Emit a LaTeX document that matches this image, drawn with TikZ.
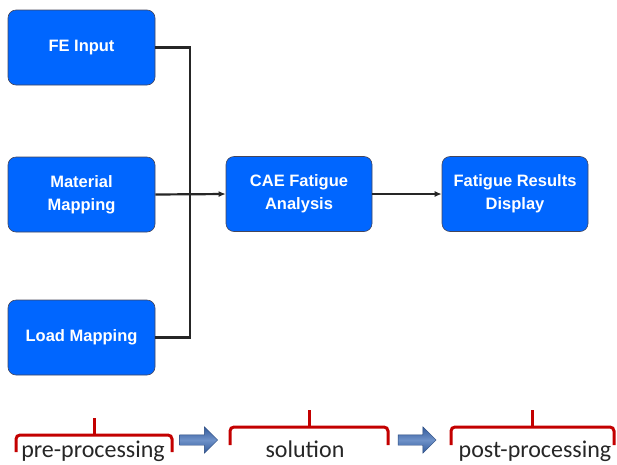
\documentclass[tikz,border=0pt]{standalone}
\usepackage{fontspec}
\newfontfamily\boxfont{Liberation Sans}
\newfontfamily\capfont{Carlito}
\usetikzlibrary{arrows.meta,shapes.arrows}
\definecolor{boxblue}{RGB}{0,102,255}
\definecolor{boxedge}{RGB}{70,70,90}
\definecolor{bracered}{RGB}{195,0,0}
\definecolor{steel}{RGB}{50,90,155}
\definecolor{steellight}{RGB}{110,145,200}
\tikzset{
  blockbox/.style={draw=boxedge, line width=0.6pt, fill=boxblue, rounded corners=8pt,
    minimum width=147pt, minimum height=75pt, text=white, align=center,
    font=\boxfont\bfseries\fontsize{16.5}{23}\selectfont},
  conn/.style={draw=black!85, line width=2.2pt},
  arr/.style={conn, -{Latex[length=7pt,width=6pt]}},
  bracepath/.style={draw=bracered, line width=3pt, rounded corners=4pt},
  phaselabel/.style={font=\capfont\fontsize{24}{29}\selectfont, text=black!85, anchor=base, inner sep=0pt},
  bluearrow/.style={single arrow, single arrow head extend=8pt, single arrow head indent=0pt,
    minimum height=38pt, inner xsep=0pt, inner ysep=5pt, draw=steel!80!black, line width=0.4pt,
    top color=steel, bottom color=steel, middle color=steellight}
}
\begin{document}
\begin{tikzpicture}[x=1pt,y=-1pt]
\useasboundingbox (0,0) rectangle (617,464);
\node[blockbox] (fe) at (81.5,47.5) {FE Input};
\node[blockbox] (mat) at (81.5,194.5) {Material\\Mapping};
\node[blockbox] (load) at (81.5,337.5) {Load Mapping};
\node[blockbox, minimum width=146pt] (cae) at (299,194) {CAE Fatigue\\Analysis};
\node[blockbox, minimum width=146pt] (res) at (515,194) {Fatigue Results\\Display};
\coordinate (j) at (190,194.5);
\draw[conn] (fe.east) -| (j) |- (load.east);
\draw[arr] (mat.east) -- (cae.west);
\draw[arr] (cae.east) -- (res.west);
% phase braces
\coordinate (b1l) at (16,452); \coordinate (b1m) at (94,435); \coordinate (b1r) at (172,452);
\coordinate (b2l) at (230,445); \coordinate (b2m) at (309,427); \coordinate (b2r) at (388,445);
\coordinate (b3l) at (451,445); \coordinate (b3m) at (532,427); \coordinate (b3r) at (614,445);
\draw[bracepath] (b1l) |- (b1m) -| (b1r);
\draw[bracepath, rounded corners=0pt] (b1m) -- ++(0,-17);
\draw[bracepath] (b2l) |- (b2m) -| (b2r);
\draw[bracepath, rounded corners=0pt] (b2m) -- ++(0,-17);
\draw[bracepath] (b3l) |- (b3m) -| (b3r);
\draw[bracepath, rounded corners=0pt] (b3m) -- ++(0,-17);
\node[phaselabel] (pre) at (93,457) {pre-processing};
\node[phaselabel] (sol) at (305,457) {solution};
\node[phaselabel] (post) at (535,457) {post-processing};
\node[bluearrow] (a1) at (196,440) {};
\node[bluearrow] (a2) at (414.5,440) {};
\end{tikzpicture}
\end{document}
